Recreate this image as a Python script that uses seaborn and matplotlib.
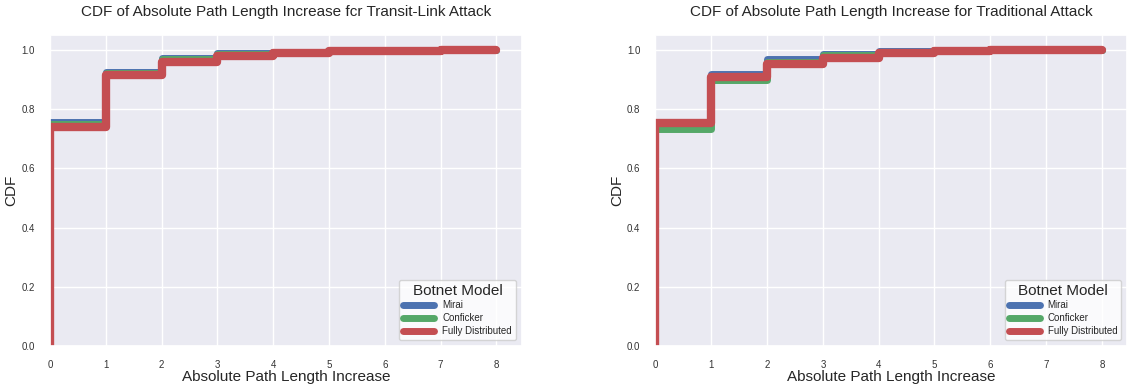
import numpy as np
import pandas as pd
import matplotlib
matplotlib.use('Agg')
import matplotlib.pyplot as plt
import seaborn as sns

# dados (CDF em degraus)
incremento = [0, 0, 1, 2, 3, 4, 5, 6, 7, 8]
modelos = ['Mirai', 'Conficker', 'Fully Distributed']

# Transit-Link Attack
tl_mirai = [0.0, 0.755, 0.926, 0.973, 0.989, 0.994, 0.998, 0.999, 1.0, 1.0]
tl_conficker = [0.0, 0.749, 0.922, 0.968, 0.985, 0.992, 0.996, 0.999, 1.0, 1.0]
tl_fully = [0.0, 0.740, 0.915, 0.960, 0.980, 0.990, 0.995, 0.998, 1.0, 1.0]

# Traditional Attack
tr_mirai = [0.0, 0.755, 0.920, 0.968, 0.987, 0.997, 1.0, 1.0, 1.0, 1.0]
tr_conficker = [0.0, 0.733, 0.900, 0.960, 0.983, 0.993, 0.999, 1.0, 1.0, 1.0]
tr_fully = [0.0, 0.752, 0.910, 0.953, 0.973, 0.988, 0.998, 1.0, 1.0, 1.0]

titulos = ['CDF of Absolute Path Length Increase fcr Transit-Link Attack',
           'CDF of Absolute Path Length Increase for Traditional Attack']
cores = {'Mirai': '#4C72B0', 'Conficker': '#55A868', 'Fully Distributed': '#C44E52'}
larguras = {'Mirai': 5, 'Conficker': 5, 'Fully Distributed': 6}


def montar_df(valores):
    linhas = []
    for m, v in zip(modelos, valores):
        for x, y in zip(incremento, v):
            linhas.append({'x': x, 'cdf': y, 'modelo': m})
    return pd.DataFrame(linhas)


dfs = [montar_df([tl_mirai, tl_conficker, tl_fully]),
       montar_df([tr_mirai, tr_conficker, tr_fully])]

sns.set_theme(style='darkgrid')
plt.rcParams['font.family'] = ['Liberation Sans', 'DejaVu Sans']

fig, axes = plt.subplots(1, 2, figsize=(11.27, 3.86), dpi=100)
plt.subplots_adjust(left=0.0444, right=1.0, bottom=0.1036, top=0.909, wspace=0.284)

for ax, df, titulo in zip(axes, dfs, titulos):
    for m in modelos:
        sub = df[df['modelo'] == m]
        sns.lineplot(data=sub, x='x', y='cdf', ax=ax, estimator=None, sort=False,
                     color=cores[m], linewidth=larguras[m], label=m,
                     drawstyle='steps-post', solid_capstyle='round',
                     solid_joinstyle='round')
    ax.set_xlim(0, 8.45)
    ax.set_ylim(0, 1.05)
    ax.set_xticks(range(9))
    ax.set_yticks([0.0, 0.2, 0.4, 0.6, 0.8, 1.0])
    ax.tick_params(axis='x', labelsize=7, colors='#333333', pad=4)
    ax.tick_params(axis='y', labelsize=7, colors='#333333', pad=5)
    ax.set_title(titulo, fontsize=11, pad=14, color='#262626')
    ax.set_xlabel('Absolute Path Length Increase', fontsize=11, labelpad=0)
    ax.set_ylabel('CDF', fontsize=11, labelpad=2)
    leg = ax.legend(title='Botnet Model', loc='lower right', fontsize=7,
                    title_fontsize=11, frameon=True, handlelength=3.2,
                    borderaxespad=0.6, labelspacing=0.3)
    leg.get_frame().set_facecolor('white')
    leg.get_frame().set_edgecolor('#cccccc')
    for l in leg.get_lines():
        l.set_linewidth(5)

plt.savefig('out.png', dpi=100)
